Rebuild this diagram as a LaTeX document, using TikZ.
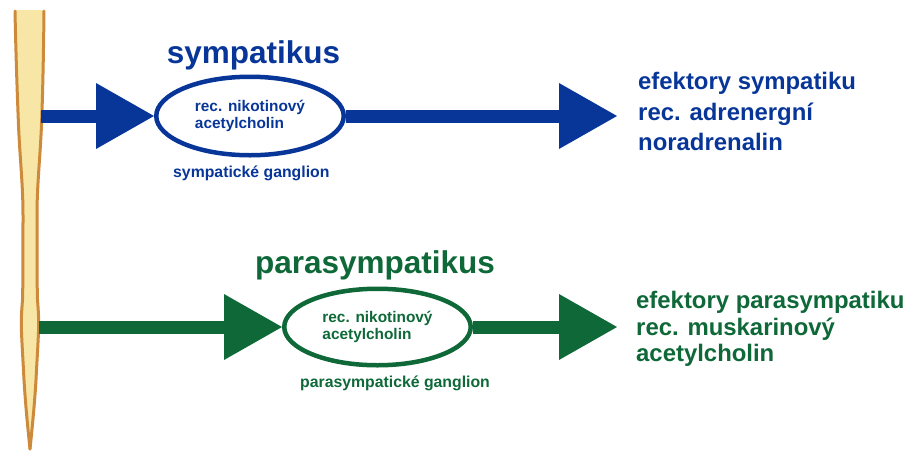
\documentclass[tikz,border=0pt]{standalone}
\usepackage{fontspec}
\setmainfont{Liberation Sans}
\usetikzlibrary{arrows.meta,shapes.geometric}
\definecolor{sblue}{RGB}{8,54,152}
\definecolor{pgreen}{RGB}{14,104,56}
\definecolor{spinefill}{RGB}{248,230,166}
\definecolor{spineedge}{RGB}{204,138,58}
\begin{document}
\begin{tikzpicture}[x=1pt,y=-1pt,
 gang/.style={ellipse,draw,line width=4.5pt,inner sep=0pt,align=left,font=\bfseries\fontsize{15.4}{17.8}\selectfont},
 bar/.style={line width=13pt,-{Triangle[length=58pt,width=66pt,line width=0pt]}},
 ttl/.style={anchor=base,inner sep=0pt,font=\bfseries\fontsize{31.5}{36}\selectfont},
 sub/.style={anchor=base west,inner sep=0pt,font=\bfseries\fontsize{15.8}{18}\selectfont},
 eff/.style={anchor=base west,inner sep=0pt,font=\bfseries\fontsize{23.9}{28}\selectfont},
 spinebody/.style={fill=spinefill},
 spineside/.style={draw=spineedge,line width=3pt,line join=round,line cap=round}
]
\useasboundingbox (0,0) rectangle (908,451);
% spinal cord body
\path[spinebody] (44,10)
  .. controls (43.5,60) and (42.5,100) .. (41.5,125)
  .. controls (40,160) and (37,185) .. (37,215)
  .. controls (37,250) and (37,285) .. (37.5,300)
  .. controls (38.5,312) and (39,322) .. (38.5,332)
  .. controls (38,345) and (37,360) .. (36,380)
  .. controls (34.5,405) and (32,430) .. (30,449)
  .. controls (28,430) and (25.5,405) .. (24,380)
  .. controls (23,360) and (22,345) .. (21.5,332)
  .. controls (21,322) and (21.5,312) .. (22.5,300)
  .. controls (23,285) and (23,250) .. (23,215)
  .. controls (23,185) and (20,160) .. (18.5,125)
  .. controls (17.5,100) and (16,60) .. (15,10) -- cycle;
% right side
\draw[spineside] (44,11)
  .. controls (43.5,60) and (42.5,100) .. (41.5,125)
  .. controls (40,160) and (37,185) .. (37,215)
  .. controls (37,250) and (37,285) .. (37.5,300)
  .. controls (38.5,312) and (39,322) .. (38.5,332)
  .. controls (38,345) and (37,360) .. (36,380)
  .. controls (34.5,405) and (32,430) .. (30,449);
% left side
\draw[spineside] (30,449)
  .. controls (28,430) and (25.5,405) .. (24,380)
  .. controls (23,360) and (22,345) .. (21.5,332)
  .. controls (21,322) and (21.5,312) .. (22.5,300)
  .. controls (23,285) and (23,250) .. (23,215)
  .. controls (23,185) and (20,160) .. (18.5,125)
  .. controls (17.5,100) and (16,60) .. (15,11);

% sympathetic
\node[gang,draw=sblue,text=sblue,minimum width=187.5pt,minimum height=78.5pt] (g1) at (250,116) {rec. nikotinový\\acetylcholin};
\node[ttl,text=sblue] (t1) at (253.5,63) {sympatikus};
\node[sub,text=sblue] (sg1) at (173,177) {sympatické ganglion};
\coordinate (s1) at (41,116);
\coordinate (e1) at (617,116);
\draw[bar,sblue] (s1) -- (g1.west);
\draw[bar,sblue] (g1.east) -- (e1);
\node[eff,text=sblue] (ea1) at (638,89.3) {efektory sympatiku};
\node[eff,text=sblue] (ea2) at (638,120.5) {rec. adrenergní};
\node[eff,text=sblue] (ea3) at (638,150.7) {noradrenalin};

% parasympathetic
\node[gang,draw=pgreen,text=pgreen,minimum width=186.5pt,minimum height=76.5pt] (g2) at (377.5,327) {rec. nikotinový\\acetylcholin};
\node[ttl,text=pgreen] (t2) at (375,273) {parasympatikus};
\node[sub,text=pgreen] (sg2) at (300,387) {parasympatické ganglion};
\coordinate (s2) at (39,327);
\coordinate (e2) at (617,327);
\draw[bar,pgreen] (s2) -- (g2.west);
\draw[bar,pgreen] (g2.east) -- (e2);
\node[eff,text=pgreen] (eb1) at (636,308.3) {efektory parasympatiku};
\node[eff,text=pgreen] (eb2) at (636,335) {rec. muskarinový};
\node[eff,text=pgreen] (eb3) at (636,361.7) {acetylcholin};
\end{tikzpicture}
\end{document}
